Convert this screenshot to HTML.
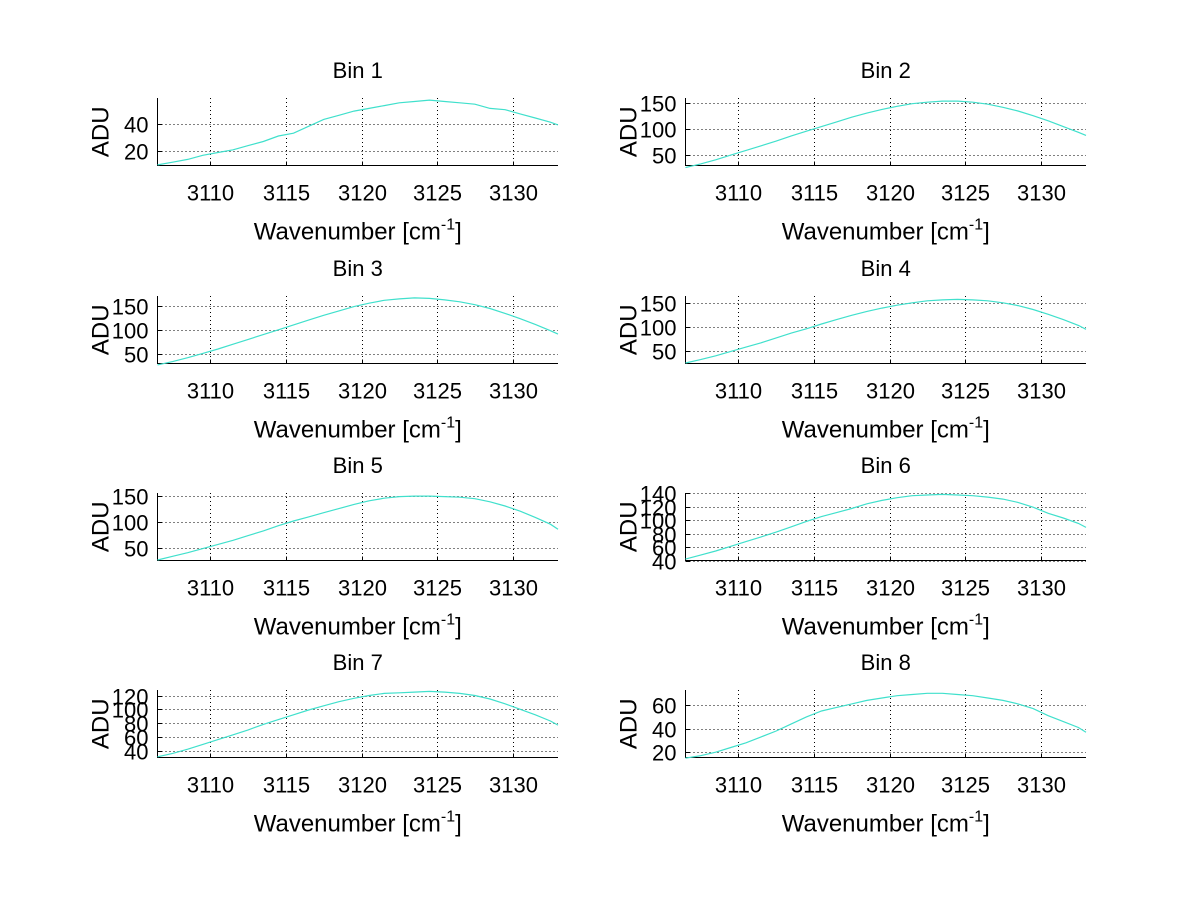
<!DOCTYPE html>
<html><head><meta charset="utf-8"><style>
body{margin:0;background:#fff;}
svg{display:block;font-family:"Liberation Sans",Arial,sans-serif;}
</style></head>
<body>
<svg id="fig" width="1200" height="901" viewBox="0 0 1200 901"></svg>
<script>
const xs = [3106.5,3107.5,3108.5,3109.5,3110.5,3111.5,3112.5,3113.5,3114.5,3115.5,3116.5,3117.5,3118.5,3119.5,3120.5,3121.5,3122.5,3123.5,3124.5,3125.5,3126.5,3127.5,3128.5,3129.5,3130.5,3131.5,3132.5,3133];
const xTicks = [3110,3115,3120,3125,3130];
const bin1 = [10,12,14,17,19,21,24,27,31,33,38,43,46,49,51,53,55,56,57,56,55,54,51,50,47,44,41,39];
const bin2 = [26,33,41,50,59,68,77,87,96,105,114,123,131,138,144,149,152,154,154,152,148,142,135,126,116,105,94,88];
const bin3 = [27,34,42,51,60,70,80,90,100,110,120,130,139,148,155,161,164,166,165,162,158,152,144,134,123,111,98,91];
const bin4 = [26,33,41,50,59,68,78,88,97,107,116,125,133,140,146,151,155,157,158,157,155,151,145,137,127,116,104,96];
const bin5 = [26,33,40,48,56,64,73,82,92,101,109,117,125,133,140,145,148,149,149,148,147,144,138,130,120,108,95,85];
const bin6 = [42,48,54,61,68,75,82,90,98,105,111,117,124,129,133,136,137,138,137,136,134,131,126,119,110,103,95,89];
const bin7 = [31,36,42,49,56,63,70,78,85,92,99,105,111,116,120,123,124,125,126,125,123,120,115,108,100,92,83,77];
const bin8 = [15,17,20,24,28,33,38,44,50,55,58,61,64,66,68,69,70,70,69,68,66,64,61,57,51,46,41,37];
const series = [bin1,bin2,bin3,bin4,bin5,bin6,bin7,bin8];
const titles = ["Bin 1","Bin 2","Bin 3","Bin 4","Bin 5","Bin 6","Bin 7","Bin 8"];
const yRanges = [[9.6,58.5],[30,160],[30,170],[25,165],[25,155],[40,140],[30,128],[15.5,72.8]];
const yTickSets = [[20,40],[50,100,150],[50,100,150],[50,100,150],[50,100,150],[40,60,80,100,120,140],[40,60,80,100,120],[20,40,60]];

const NS="http://www.w3.org/2000/svg";
const svg=document.getElementById('fig');
function mk(tag,attrs,parent){const e=document.createElementNS(NS,tag);for(const k in attrs)e.setAttribute(k,attrs[k]);(parent||svg).appendChild(e);return e;}
const X0=3106.5,X1=3133;
for(let i=0;i<8;i++){
  const col=i%2,row=Math.floor(i/2);
  const L=col?685.5:157.5,R=col?1086:558,T=[98,296,493,690][row],B=T+67.5;
  const g=mk('g',{});
  
  
  const sx=v=>L+(v-X0)/(X1-X0)*(R-L);
  const [y0,y1]=yRanges[i];
  const sy=v=>B-(v-y0)/(y1-y0)*(B-T);
  xTicks.forEach(t=>{const x=Math.round(sx(t))+0.5;
    const l=mk('line',{x1:x,x2:x,y1:T,y2:B,stroke:'#000','stroke-dasharray':'1,3','stroke-width':1},g);
    
    mk('line',{x1:x,x2:x,y1:B,y2:B-4,stroke:'#000'},g);
    const tx=mk('text',{x:x,y:B+35,'text-anchor':'middle','font-size':22},g);tx.textContent=t;
    });
  yTickSets[i].forEach(t=>{const y=Math.round(sy(t))+0.5;
    const l=mk('line',{x1:L,x2:R,y1:y,y2:y,stroke:'#000','stroke-dasharray':'1,3','stroke-width':1},g);
    
    mk('line',{x1:L,x2:L+4,y1:y,y2:y,stroke:'#000'},g);
    const tx=mk('text',{x:L-9,y:y+8,'text-anchor':'end','font-size':22},g);tx.textContent=t;
    });
  const ax=mk('path',{d:`M${L},${T}V${B}H${R}`,fill:'none',stroke:'#000','stroke-width':1},g);
  
  const d=series[i].map((v,k)=>(k?'L':'M')+sx(xs[k]).toFixed(1)+','+sy(v).toFixed(1)).join('');
  const p=mk('path',{d,fill:'none',stroke:'#40e0cc','stroke-width':1.2},g);
  
  const ti=mk('text',{x:(L+R)/2,y:T-20,'text-anchor':'middle','font-size':22},g);ti.textContent=titles[i];
  
  const xl=mk('text',{x:(L+R)/2,y:B+74,'text-anchor':'middle','font-size':24},g);
  xl.innerHTML='Wavenumber [cm<tspan dy="-10" font-size="16">-1</tspan><tspan dy="10">]</tspan>';
  
  const yl=mk('text',{x:0,y:0,'text-anchor':'middle','font-size':24,transform:`translate(${L-49},${(T+B)/2}) rotate(-90)`},g);yl.textContent='ADU';
  
}
</script>
</body></html>
